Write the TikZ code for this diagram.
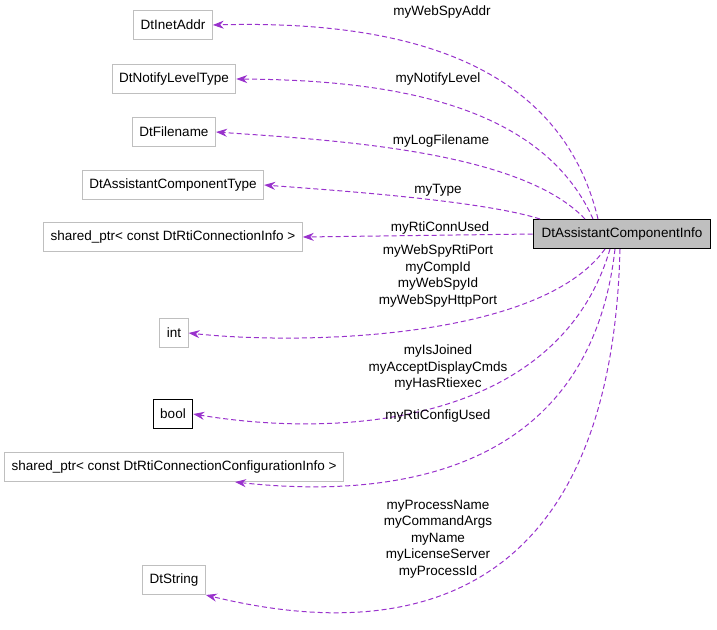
\documentclass[tikz,border=0pt]{standalone}
\usepackage{fontspec}
\setmainfont{Liberation Sans}
\usetikzlibrary{arrows.meta,positioning}
\definecolor{edgepurple}{RGB}{153,50,204}
\definecolor{boxgray}{RGB}{191,191,191}

\begin{document}
\begin{tikzpicture}[x=1pt,y=-1pt,
  cls/.style={draw=boxgray,line width=1pt,fill=white,minimum height=29pt,inner xsep=7pt,font=\fontsize{13.5}{16}\selectfont},
  rel/.style={draw=edgepurple,line width=1pt,dash pattern=on 5pt off 3pt,-{Stealth[length=11pt,width=8pt]},fill=none},
  lbl/.style={font=\fontsize{13.5}{16.5}\selectfont,align=center}]
\useasboundingbox (0,0) rectangle (717,629);

\node[cls,draw=black,fill=boxgray,inner xsep=8.5pt] (main) at (622,234) {DtAssistantComponentInfo};

\node[cls] (inet) at (173,25) {DtInetAddr};
\node[cls] (notify) at (174,79) {DtNotifyLevelType};
\node[cls] (fname) at (174,132) {DtFilename};
\node[cls] (ctype) at (173,185) {DtAssistantComponentType};
\node[cls] (conn) at (173,237) {shared\_ptr< const DtRtiConnectionInfo >};
\node[cls] (int) at (174,333) {int};
\node[cls,draw=black] (bool) at (173,414) {bool};
\node[cls] (config) at (174,467) {shared\_ptr< const DtRtiConnectionConfigurationInfo >};
\node[cls] (str) at (174,580) {DtString};

% members
\draw[rel] ([xshift=-24pt]main.north) .. controls (560,60) and (400,20) .. (inet.east);
\draw[rel] ([xshift=-29pt]main.north) .. controls (540,100) and (380,80) .. (notify.east);
\draw[rel] ([xshift=-37pt]main.north) .. controls (520,150) and (330,140) .. (fname.east);
\draw[rel] ([xshift=-82pt]main.north) .. controls (480,200) and (330,190) .. (ctype.east);
\draw[rel] (main.west) -- (conn.east);
\draw[rel] ([xshift=-17pt]main.south) .. controls (540,340) and (300,345) .. (int.east);
\draw[rel] ([xshift=-12pt]main.south) .. controls (560,420) and (350,440) .. (bool.east);
\draw[rel] ([xshift=-7pt]main.south) .. controls (590,470) and (400,500) .. ([xshift=61pt]config.south);
\draw[rel] ([xshift=-2pt]main.south) .. controls (610,650) and (350,630) .. (str.south east);

\node[lbl] (l1) at (442,12) {myWebSpyAddr};
\node[lbl] (l2) at (438,79) {myNotifyLevel};
\node[lbl] (l3) at (441,141) {myLogFilename};
\node[lbl] (l4) at (438,190) {myType};
\node[lbl] (l5) at (440,228) {myRtiConnUsed};
\node[lbl] (l6) at (438,276) {myWebSpyRtiPort\\myCompId\\myWebSpyId\\myWebSpyHttpPort};
\node[lbl] (l7) at (438,368) {myIsJoined\\myAcceptDisplayCmds\\myHasRtiexec};
\node[lbl] (l8) at (438,416) {myRtiConfigUsed};
\node[lbl] (l9) at (438,539) {myProcessName\\myCommandArgs\\myName\\myLicenseServer\\myProcessId};
\end{tikzpicture}
\end{document}
